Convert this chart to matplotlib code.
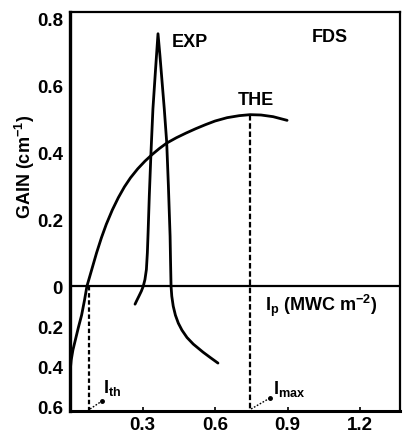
"""
Gain curves: experiment vs theory, with threshold and max intensities
"""
import numpy as np
import matplotlib
matplotlib.use("Agg")
import matplotlib.pyplot as plt

# theoretical gain curve (below zero is absorption, drawn on its own scale)
THE_X = [0.0, 0.001, 0.005, 0.012, 0.021, 0.035, 0.048, 0.06, 0.07,
         0.09, 0.11, 0.13, 0.15, 0.175, 0.20, 0.225, 0.25, 0.28, 0.31,
         0.34, 0.37, 0.40, 0.44, 0.48, 0.52, 0.56, 0.60, 0.65, 0.70,
         0.745, 0.79, 0.84, 0.898]
THE_Y = [-0.625, -0.42, -0.37, -0.32, -0.275, -0.205, -0.145, -0.07, 0.0,
         0.05, 0.10, 0.145, 0.185, 0.228, 0.265, 0.297, 0.324, 0.351, 0.374,
         0.394, 0.412, 0.428, 0.444, 0.458, 0.471, 0.483, 0.494, 0.504, 0.510,
         0.513, 0.512, 0.507, 0.496]

# experimental curve
EXP_X = [0.269, 0.276, 0.285, 0.295, 0.303, 0.310, 0.316, 0.320, 0.323,
         0.328, 0.335, 0.343, 0.354, 0.364, 0.372, 0.381, 0.39, 0.40,
         0.407, 0.414, 0.416, 0.418, 0.421, 0.427, 0.436, 0.448, 0.463,
         0.484, 0.51, 0.55, 0.58, 0.612]
EXP_Y = [-0.09, -0.072, -0.05, -0.025, 0.0, 0.02, 0.05, 0.10, 0.16,
         0.27, 0.40, 0.53, 0.65, 0.755, 0.69, 0.61, 0.53, 0.43,
         0.30, 0.15, 0.07, 0.0, -0.05, -0.10, -0.145, -0.185, -0.22,
         -0.257, -0.29, -0.33, -0.357, -0.385]

ITH_X = 0.079
IMAX_X = 0.745
IMAX_Y = 0.513

Y_TICKS = [-0.6, -0.4, -0.2, 0.0, 0.2, 0.4, 0.6, 0.8]
Y_LABELS = ["0.6", "0.4", "0.2", "0", "0.2", "0.4", "0.6", "0.8"]
X_TICKS = [0.3, 0.6, 0.9, 1.2]
X_LABELS = ["0.3", "0.6", "0.9", "1.2"]

YMIN = -0.625
YMAX = 0.82
XMAX = 1.365
LOWER_K = 0.597  # the absorption half is squeezed

FS = 13


def forward(y):
    y = np.asarray(y, dtype=float)
    return np.where(y >= 0, y, y * LOWER_K)


def inverse(y):
    y = np.asarray(y, dtype=float)
    return np.where(y >= 0, y, y / LOWER_K)


def main():
    plt.rcParams["font.family"] = ["Liberation Sans", "DejaVu Sans"]
    plt.rcParams["font.weight"] = "bold"
    plt.rcParams["mathtext.default"] = "regular"

    fig = plt.figure(figsize=(4.03, 4.35), dpi=100)
    ax = fig.add_axes([70 / 403, 23 / 435, 330 / 403, 399 / 435])
    ax.set_yscale("function", functions=(forward, inverse))
    ax.set_xlim(0, XMAX)
    ax.set_ylim(YMIN, YMAX)

    ax.plot(THE_X, THE_Y, color="black", lw=2.0, solid_capstyle="round",
            solid_joinstyle="round")
    ax.plot(EXP_X, EXP_Y, color="black", lw=2.0, solid_capstyle="round",
            solid_joinstyle="round")
    ax.axhline(0, color="black", lw=1.6)

    # threshold and max intensity markers
    ax.plot([ITH_X, ITH_X], [0, YMIN], color="black", lw=1.6,
            linestyle=(0, (2.0, 1.2)))
    ax.plot([IMAX_X, IMAX_X], [IMAX_Y, YMIN], color="black", lw=1.6,
            linestyle=(0, (2.5, 1.2)))
    ax.plot([ITH_X + 0.004, 0.132], [-0.615, -0.575], color="black", lw=1.0,
            linestyle=(0, (1.2, 1.2)))
    ax.plot([0.132], [-0.575], "o", color="black", ms=2.5)
    ax.plot([IMAX_X + 0.004, 0.827], [-0.615, -0.56], color="black", lw=1.0,
            linestyle=(0, (1.2, 1.2)))
    ax.plot([0.827], [-0.56], "o", color="black", ms=2.5)

    ax.text(0.137, -0.53, r"$I_{th}$", fontsize=FS, ha="left", va="baseline")
    ax.text(0.84, -0.535, r"$I_{max}$", fontsize=FS, ha="left", va="baseline")
    ax.text(0.807, -0.095, r"$I_p$ (MWC m$^{-2}$)", fontsize=FS,
            ha="left", va="center")
    ax.text(0.422, 0.731, "EXP", fontsize=FS, ha="left", va="center")
    ax.text(0.695, 0.557, "THE", fontsize=FS, ha="left", va="center")
    ax.text(1.0, 0.746, "FDS", fontsize=FS, ha="left", va="center")

    ax.set_yticks(Y_TICKS)
    ax.set_yticklabels(Y_LABELS, fontsize=13.5, fontweight="bold")
    ax.set_xticks(X_TICKS)
    ax.set_xticklabels(X_LABELS, fontsize=13.5, fontweight="bold")
    ax.minorticks_off()
    ax.tick_params(axis="y", length=0, pad=5)
    ax.tick_params(axis="x", direction="in", length=3, width=1.2, pad=3.5)

    ax.spines["left"].set_linewidth(2.4)
    ax.spines["bottom"].set_linewidth(2.2)
    ax.spines["top"].set_linewidth(1.6)
    ax.spines["right"].set_linewidth(1.6)

    fig.text(25 / 403, 1 - 167 / 435, r"GAIN (cm$^{-1}$)", fontsize=FS,
             rotation=90, ha="center", va="center")

    fig.savefig("out.png", dpi=100)


main()
